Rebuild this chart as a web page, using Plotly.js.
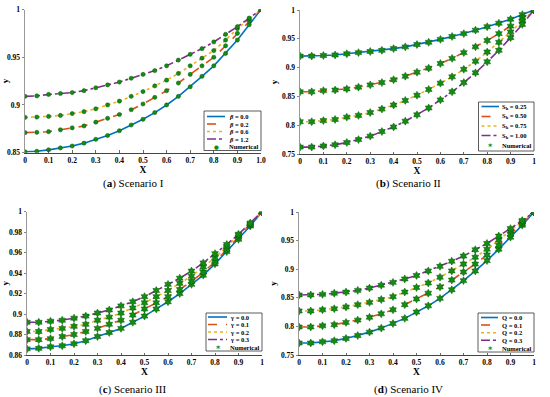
<!DOCTYPE html>
<html>
<head>
<meta charset="utf-8">
<script src="https://cdn.plot.ly/plotly-3.0.1.min.js"></script>
<style>html,body{margin:0;padding:0;background:#fff;}#chart{width:550px;height:397px;}</style>
</head>
<body>
<div id="chart"></div>
<script>
// ---- data ----
var X = [0,0.05,0.1,0.15,0.2,0.25,0.3,0.35,0.4,0.45,0.5,0.55,0.6,0.65,0.7,0.75,0.8,0.85,0.9,0.95,1];

// Scenario I (beta)
var beta00 = [0.851,0.8515,0.853,0.855,0.857,0.860,0.864,0.868,0.873,0.879,0.885,0.892,0.900,0.909,0.919,0.930,0.941,0.954,0.968,0.984,1.0];
var beta02 = [0.871,0.8713,0.872,0.874,0.876,0.878,0.882,0.886,0.890,0.895,0.901,0.908,0.915,0.923,0.932,0.941,0.950,0.962,0.975,0.988,1.0];
var beta06 = [0.887,0.8873,0.888,0.889,0.891,0.893,0.896,0.900,0.904,0.909,0.914,0.920,0.926,0.933,0.941,0.949,0.957,0.968,0.980,0.990,1.0];
var beta12 = [0.909,0.9095,0.911,0.912,0.913,0.915,0.918,0.921,0.924,0.928,0.932,0.936,0.941,0.947,0.953,0.959,0.966,0.974,0.982,0.991,1.0];

// Scenario II (S_h)
var sh025 = [0.920,0.920,0.921,0.922,0.924,0.926,0.928,0.930,0.933,0.936,0.940,0.944,0.949,0.954,0.959,0.965,0.971,0.977,0.984,0.992,1.0];
var sh050 = [0.858,0.858,0.860,0.861,0.863,0.866,0.870,0.874,0.879,0.885,0.892,0.899,0.907,0.916,0.926,0.936,0.947,0.959,0.972,0.986,1.0];
var sh075 = [0.806,0.806,0.808,0.810,0.814,0.817,0.822,0.828,0.835,0.843,0.852,0.862,0.873,0.884,0.897,0.911,0.927,0.944,0.962,0.981,1.0];
var sh100 = [0.762,0.762,0.764,0.766,0.770,0.775,0.781,0.789,0.797,0.807,0.818,0.830,0.844,0.858,0.874,0.891,0.910,0.930,0.952,0.975,1.0];

// Scenario III (gamma)
var gam00 = [0.866,0.8665,0.868,0.869,0.871,0.874,0.878,0.882,0.886,0.892,0.898,0.905,0.912,0.920,0.929,0.938,0.949,0.961,0.973,0.986,1.0];
var gam01 = [0.875,0.875,0.876,0.878,0.880,0.883,0.886,0.890,0.894,0.899,0.905,0.911,0.917,0.924,0.932,0.941,0.951,0.963,0.975,0.987,1.0];
var gam02 = [0.883,0.883,0.885,0.886,0.888,0.890,0.894,0.897,0.901,0.906,0.911,0.917,0.923,0.930,0.937,0.946,0.955,0.966,0.977,0.988,1.0];
var gam03 = [0.892,0.892,0.893,0.894,0.896,0.898,0.901,0.904,0.908,0.912,0.917,0.923,0.929,0.935,0.942,0.950,0.959,0.968,0.978,0.989,1.0];

// Scenario IV (Q)
var q00 = [0.771,0.771,0.773,0.775,0.779,0.784,0.790,0.797,0.805,0.814,0.825,0.836,0.849,0.864,0.880,0.897,0.915,0.935,0.956,0.977,1.0];
var q01 = [0.799,0.799,0.801,0.803,0.807,0.811,0.816,0.822,0.829,0.838,0.848,0.858,0.869,0.881,0.895,0.909,0.925,0.942,0.961,0.980,1.0];
var q02 = [0.827,0.827,0.829,0.831,0.834,0.838,0.842,0.847,0.852,0.860,0.868,0.876,0.886,0.897,0.909,0.921,0.935,0.951,0.967,0.983,1.0];
var q03 = [0.855,0.855,0.856,0.858,0.860,0.863,0.867,0.872,0.877,0.883,0.889,0.897,0.905,0.914,0.923,0.934,0.945,0.958,0.971,0.985,1.0];

var xTickA = [0,0.1,0.2,0.3,0.4,0.5,0.6,0.7,0.8,0.9,1];
var xTickTextA = ['0','0.1','0.2','0.3','0.4','0.5','0.6','0.7','0.8','0.9','1.0'];
var xTickTextB = ['0','0.1','0.2','0.3','0.4','0.5','0.6','0.7','0.8','0.9','1'];
var yTicksA = [0.85,0.9,0.95,1];
var yTicksB = [0.75,0.8,0.85,0.9,0.95,1];
var yTicksC = [0.86,0.88,0.9,0.92,0.94,0.96,0.98,1];
var yTicksD = [0.75,0.8,0.85,0.9,0.95,1];

var labelsA = ['<b><i>β</i> = 0.0</b>','<b><i>β</i> = 0.2</b>','<b><i>β</i> = 0.6</b>','<b><i>β</i> = 1.2</b>','<b>Numerical</b>'];
var labelsB = ['<b>S<sub>h</sub> = 0.25</b>','<b>S<sub>h</sub> = 0.50</b>','<b>S<sub>h</sub> = 0.75</b>','<b>S<sub>h</sub> = 1.00</b>','<b>Numerical</b>'];
var labelsC = ['<b>γ = 0.0</b>','<b>γ = 0.1</b>','<b>γ = 0.2</b>','<b>γ = 0.3</b>','<b>Numerical</b>'];
var labelsD = ['<b>Q = 0.0</b>','<b>Q = 0.1</b>','<b>Q = 0.2</b>','<b>Q = 0.3</b>','<b>Numerical</b>'];
var captions = ['(<b>a</b>) Scenario I','(<b>b</b>) Scenario II','(<b>c</b>) Scenario III','(<b>d</b>) Scenario IV'];

// ---- styles ----
var colors = ['#0072BD','#D95319','#EDB120','#7E2F8E'];
var dashes = ['solid','dash','dot','dashdot'];
var green = '#128c12';
var W = 550, H = 397;
function px(x){return x/W;}
function py(y){return 1-y/H;}

var panels = [
  {series:[beta00,beta02,beta06,beta12], yr:[0.85,1], yt:yTicksA, xtt:xTickTextA, labels:labelsA,
   box:[25,261,9.5,152.7], sym:'circle', msize:4.2, glyph:'●', gsize:5.5,
   leg:{x0:204,x1:261,y0:111,y1:150.5,ys:[116.5,124,131.5,139,146.5],l0:207,l1:225,t:226.5},
   cap:[133,183]},
  {series:[sh025,sh050,sh075,sh100], yr:[0.75,1], yt:yTicksB, xtt:xTickTextB, labels:labelsB,
   box:[300,534,10,154], sym:'hexagram', msize:6, glyph:'✶', gsize:7.5,
   leg:{x0:478.5,x1:534,y0:102,y1:151,ys:[106.5,116.5,126,135.5,145.5],l0:481.5,l1:499,t:499.5},
   cap:[408,183]},
  {series:[gam00,gam01,gam02,gam03], yr:[0.86,1], yt:yTicksC, xtt:xTickTextB, labels:labelsC,
   box:[27,262,211.7,355], sym:'hexagram', msize:6, glyph:'✶', gsize:7.5,
   leg:{x0:206,x1:262,y0:313,y1:351,ys:[317,324.5,332,339.5,347],l0:208,l1:227,t:228},
   cap:[133,389]},
  {series:[q00,q01,q02,q03], yr:[0.75,1], yt:yTicksD, xtt:xTickTextB, labels:labelsD,
   box:[299,534,212,355], sym:'hexagram', msize:6, glyph:'✶', gsize:7.5,
   leg:{x0:478,x1:534,y0:313,y1:352,ys:[317.5,325,332.7,340.3,348],l0:481,l1:498,t:499.5},
   cap:[408,389]}
];

var tickFont = {family:'Liberation Serif, Times New Roman, serif', size:7.5, color:'#000'};
var data = [], layout = {
  width:W, height:H, margin:{l:0,r:0,t:0,b:0},
  paper_bgcolor:'#fff', plot_bgcolor:'#fff', showlegend:false,
  shapes:[], annotations:[]
};

panels.forEach(function(p, i){
  var n = i+1;
  var xa = 'x'+(n===1?'':n), ya = 'y'+(n===1?'':n);
  var xk = 'xaxis'+(n===1?'':n), yk = 'yaxis'+(n===1?'':n);
  layout[xk] = {
    domain:[px(p.box[0]), px(p.box[1])], range:[0,1], anchor:ya,
    tickmode:'array', tickvals:xTickA, ticktext:p.xtt.map(function(t){return '<b>'+t+'</b>';}),
    ticks:'inside', ticklen:2.5, tickcolor:'#444', tickwidth:0.8,
    showline:true, linecolor:'#444', linewidth:1, showgrid:false, zeroline:false,
    tickfont:tickFont, fixedrange:true,
    title:{text:'<b>X</b>', font:{family:'Liberation Serif, serif', size:9.5, color:'#000'}, standoff:1}
  };
  layout[yk] = {
    domain:[py(p.box[3]), py(p.box[2])], range:p.yr, anchor:xa,
    tickmode:'array', tickvals:p.yt, ticktext:p.yt.map(function(t){return '<b>'+t+'</b>';}),
    ticks:'outside', ticklen:2, tickcolor:'#666', tickwidth:0.8,
    showline:true, linecolor:'#999', linewidth:1.5, showgrid:false, zeroline:false,
    tickfont:tickFont, fixedrange:true,
    title:{text:'<b>y</b>', font:{family:'Liberation Serif, serif', size:9, color:'#000'}, standoff:2}
  };
  p.series.forEach(function(s, k){
    data.push({x:X, y:s, xaxis:xa, yaxis:ya, type:'scatter', mode:'lines',
      line:{color:colors[k], width:1.6, dash:dashes[k]}, hoverinfo:'skip'});
  });
  p.series.forEach(function(s, k){
    data.push({x:X, y:s, xaxis:xa, yaxis:ya, type:'scatter', mode:'markers',
      marker:{symbol:p.sym, size:p.msize, color:green, line:{color:'#0a5a0a', width:0.5}}, hoverinfo:'skip'});
  });
  // legend box
  var L = p.leg;
  layout.shapes.push({type:'rect', xref:'paper', yref:'paper', x0:px(L.x0), x1:px(L.x1), y0:py(L.y1), y1:py(L.y0),
    line:{color:'#333', width:0.8}, fillcolor:'#fff', layer:'above'});
  for (var k=0;k<4;k++){
    layout.shapes.push({type:'line', xref:'paper', yref:'paper', x0:px(L.l0), x1:px(L.l1), y0:py(L.ys[k]), y1:py(L.ys[k]),
      line:{color:colors[k], width:1.6, dash:dashes[k]}, layer:'above'});
  }
  layout.annotations.push({xref:'paper', yref:'paper', x:px((L.l0+L.l1)/2), y:py(L.ys[4]), text:p.glyph,
    showarrow:false, font:{size:p.gsize, color:green, family:'DejaVu Sans'}, xanchor:'center', yanchor:'middle'});
  p.labels.forEach(function(t, k){
    layout.annotations.push({xref:'paper', yref:'paper', x:px(L.t), y:py(L.ys[k]), text:t,
      showarrow:false, xanchor:'left', yanchor:'middle',
      font:{family:'Liberation Serif, Times New Roman, serif', size:6.5, color:'#000'}});
  });
  // caption
  layout.annotations.push({xref:'paper', yref:'paper', x:px(p.cap[0]), y:py(p.cap[1]), text:captions[i],
    showarrow:false, xanchor:'center', yanchor:'middle',
    font:{family:'Liberation Serif, Times New Roman, serif', size:11, color:'#000'}});
});

Plotly.newPlot('chart', data, layout, {displayModeBar:false, staticPlot:true});
</script>
</body>
</html>
